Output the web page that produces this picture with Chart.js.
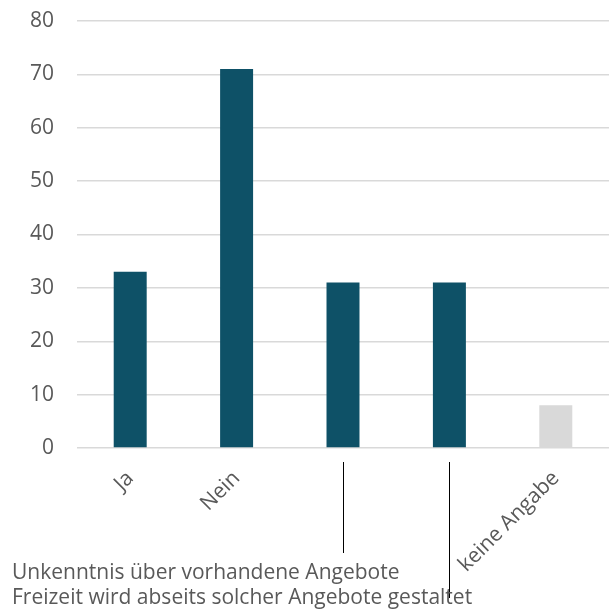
<!DOCTYPE html>
<html lang="de">
<head>
<meta charset="UTF-8" />
<title>Balkendiagramm</title>
<script src="https://cdn.jsdelivr.net/npm/chart.js@4.4.0/dist/chart.umd.min.js"></script>
<style>
  html, body { margin: 0; padding: 0; background: #fff; }
  #wrap { width: 612px; height: 613px; position: relative; }
</style>
</head>
<body>
<div id="wrap"><canvas id="chart"></canvas></div>
<script>
// Daten
const categories = ["Ja", "Nein", "Unkenntnis über vorhandene Angebote", "Freizeit wird abseits solcher Angebote gestaltet", "keine Angabe"];
const values = [33, 71, 31, 31, 8];
const barColors = ["#0e5167", "#0e5167", "#0e5167", "#0e5167", "#d9d9d9"];
const yTicks = [0, 10, 20, 30, 40, 50, 60, 70, 80];
// Kategorien, deren lange Beschriftung waagerecht unten mit Linie steht
const longLabelIdx = [2, 3];

const FONT = "'Open Sans', sans-serif";
const GREY = "#595959";

// lange Beschriftungen unten links, mit senkrechter Führungslinie
const longLabels = {
  id: "longLabels",
  afterDraw(chart) {
    const { ctx, scales: { x }, chartArea } = chart;
    const rows = [573, 598];
    ctx.save();
    ctx.font = "21px " + FONT;
    ctx.fillStyle = GREY;
    ctx.textBaseline = "middle";
    ctx.textAlign = "left";
    longLabelIdx.forEach((i, r) => {
      const px = Math.round(x.getPixelForValue(i)) + 0.5;
      ctx.strokeStyle = "#000";
      ctx.lineWidth = 1;
      ctx.beginPath();
      ctx.moveTo(px, chartArea.bottom + 14);
      ctx.lineTo(px, rows[r] - (r === 0 ? 20 : 0));
      ctx.stroke();
      ctx.fillText(categories[i], 12, rows[r]);
    });
    ctx.restore();
  },
};

new Chart(document.getElementById("chart"), {
  type: "bar",
  data: {
    labels: categories,
    datasets: [{
      data: values,
      backgroundColor: barColors,
      borderWidth: 0,
      barPercentage: 0.31,
      categoryPercentage: 1,
    }],
  },
  options: {
    responsive: true,
    maintainAspectRatio: false,
    animation: false,
    layout: { padding: { top: 21, right: 3, left: 0, bottom: 0 } },
    plugins: { legend: { display: false }, tooltip: { enabled: false } },
    scales: {
      x: {
        grid: { display: false },
        border: { display: false },
        ticks: {
          autoSkip: false,
          minRotation: 45,
          maxRotation: 45,
          padding: 10,
          color: GREY,
          font: { family: FONT, size: 21 },
          callback: (v, i) => (longLabelIdx.includes(i) ? "" : categories[i]),
        },
        afterFit(scale) { scale.height = 165; },
      },
      y: {
        min: 0,
        max: 80,
        afterBuildTicks(scale) { scale.ticks = yTicks.map(v => ({ value: v })); },
        grid: { color: "#d9d9d9", lineWidth: 1.5, drawTicks: false },
        border: { display: false },
        ticks: {
          color: GREY,
          padding: 23,
          font: { family: FONT, size: 21 },
        },
        afterFit(scale) {
          scale.width = 77;
          // Tick-Abstand nicht oben/unten zum Plotbereich addieren
          scale.paddingTop = 0;
          scale.paddingBottom = 0;
        },
      },
    },
  },
  plugins: [longLabels],
});
</script>
</body>
</html>
